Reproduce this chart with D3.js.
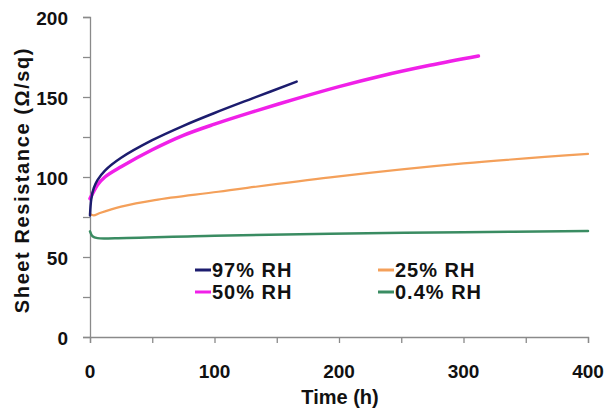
<!DOCTYPE html>
<html>
<head>
<meta charset="utf-8">
<script src="https://cdn.jsdelivr.net/npm/d3@7"></script>
<style>
  body { margin: 0; background: #fff; }
  text { font-family: "Liberation Sans", Arial, sans-serif; font-weight: bold; fill: #111; }
</style>
</head>
<body>
<main></main>
<script>
// values
const seriesNames = ["97% RH", "50% RH", "25% RH", "0.4% RH"]
const seriesColors = ["#1c1c6e", "#f020e8", "#f4a05a", "#3a8c62"]

const t97 = [0, 1, 3, 6, 12, 25, 50, 75, 100, 130, 166]
const r97 = [76, 86, 93, 98, 104, 112, 123, 132, 140, 149, 159.6]

const t50 = [0, 3, 6, 12, 25, 50, 75, 100, 130, 166, 200, 233, 273, 312]
const r50 = [86.5, 91, 95, 100, 106.4, 117, 126, 133, 140.5, 149, 156.5, 163, 169.8, 175.6]

const t25 = [0, 3, 8, 25, 52, 103, 193, 300, 400]
const r25 = [77, 76, 77.5, 81.5, 85.6, 90.8, 99.8, 108.5, 114.4]

const t04 = [0, 2, 6, 20, 100, 193, 300, 400]
const r04 = [66, 63, 61.8, 61.7, 63.3, 64.5, 65.5, 66.3]

const xTicks = [0, 50, 100, 150, 200, 250, 300, 350, 400]
const xLabels = [0, 100, 200, 300, 400]
const yTicks = [0, 25, 50, 75, 100, 125, 150, 175, 200]
const yLabels = [0, 50, 100, 150, 200]

const series = [
    {name: seriesNames[0], color: seriesColors[0], w: 2.5, pts: t97.map((t, i) => [t, r97[i]])},
    {name: seriesNames[1], color: seriesColors[1], w: 3.5, pts: t50.map((t, i) => [t, r50[i]])},
    {name: seriesNames[2], color: seriesColors[2], w: 2.2, pts: t25.map((t, i) => [t, r25[i]])},
    {name: seriesNames[3], color: seriesColors[3], w: 2.5, pts: t04.map((t, i) => [t, r04[i]])}
]

const width = 608, height = 413
const margin = {top: 17, right: 20, bottom: 76, left: 90}

const x = d3.scaleLinear().domain([0, 400]).range([margin.left, width - margin.right])
const y = d3.scaleLinear().domain([0, 200]).range([height - margin.bottom, margin.top])

const svg = d3.select("main").append("svg")
    .attr("width", width)
    .attr("height", height)

const axisColor = "#8a8a8a"

// y axis
const gy = svg.append("g").attr("transform", `translate(${margin.left},0)`)
    .call(d3.axisLeft(y).tickValues(yTicks).tickSize(7).tickFormat(""))
gy.selectAll("line, path").attr("stroke", axisColor).attr("stroke-width", 1.3)

svg.append("g").selectAll("text")
    .data(yLabels)
    .enter()
    .append("text")
    .attr("x", margin.left - 22)
    .attr("y", d => y(d) + 1)
    .attr("dy", "0.36em")
    .attr("text-anchor", "end")
    .attr("font-size", 19)
    .text(d => d)

// x axis
const gx = svg.append("g").attr("transform", `translate(0,${y(0)})`)
    .call(d3.axisBottom(x).tickValues(xTicks).tickSize(6).tickFormat(""))
gx.selectAll("line, path").attr("stroke", axisColor).attr("stroke-width", 1.3)

svg.append("g").selectAll("text")
    .data(xLabels)
    .enter()
    .append("text")
    .attr("x", d => x(d))
    .attr("y", y(0) + 34)
    .attr("dy", "0.36em")
    .attr("text-anchor", "middle")
    .attr("font-size", 19)
    .text(d => d)

// axis titles
svg.append("text")
    .attr("x", 340)
    .attr("y", 397)
    .attr("dy", "0.36em")
    .attr("text-anchor", "middle")
    .attr("font-size", 20)
    .text("Time (h)")

svg.append("text")
    .attr("transform", "translate(22,180) rotate(-90)")
    .attr("dy", "0.36em")
    .attr("text-anchor", "middle")
    .attr("font-size", 20)
    .attr("letter-spacing", 1.6)
    .text("Sheet Resistance (Ω/sq)")

// curves
const line = d3.line()
    .x(d => x(d[0]))
    .y(d => y(d[1]))
    .curve(d3.curveCatmullRom.alpha(0.5))

svg.append("g").selectAll("path")
    .data(series.slice().reverse())
    .enter()
    .append("path")
    .attr("fill", "none")
    .attr("stroke", d => d.color)
    .attr("stroke-width", d => d.w)
    .attr("stroke-linecap", "round")
    .attr("d", d => line(d.pts))

// legend, two columns
const legendPos = [[195, 270], [195, 292], [378, 270], [378, 292]]
const lg = svg.append("g").selectAll("g")
    .data(series)
    .enter()
    .append("g")
    .attr("transform", (d, i) => `translate(${legendPos[i][0]},${legendPos[i][1]})`)

lg.append("line")
    .attr("x1", 0).attr("x2", 16)
    .attr("stroke", d => d.color)
    .attr("stroke-width", 3)

lg.append("text")
    .attr("x", 17)
    .attr("dy", "0.36em")
    .attr("font-size", 20)
    .attr("letter-spacing", 1)
    .text(d => d.name)
</script>
</body>
</html>
